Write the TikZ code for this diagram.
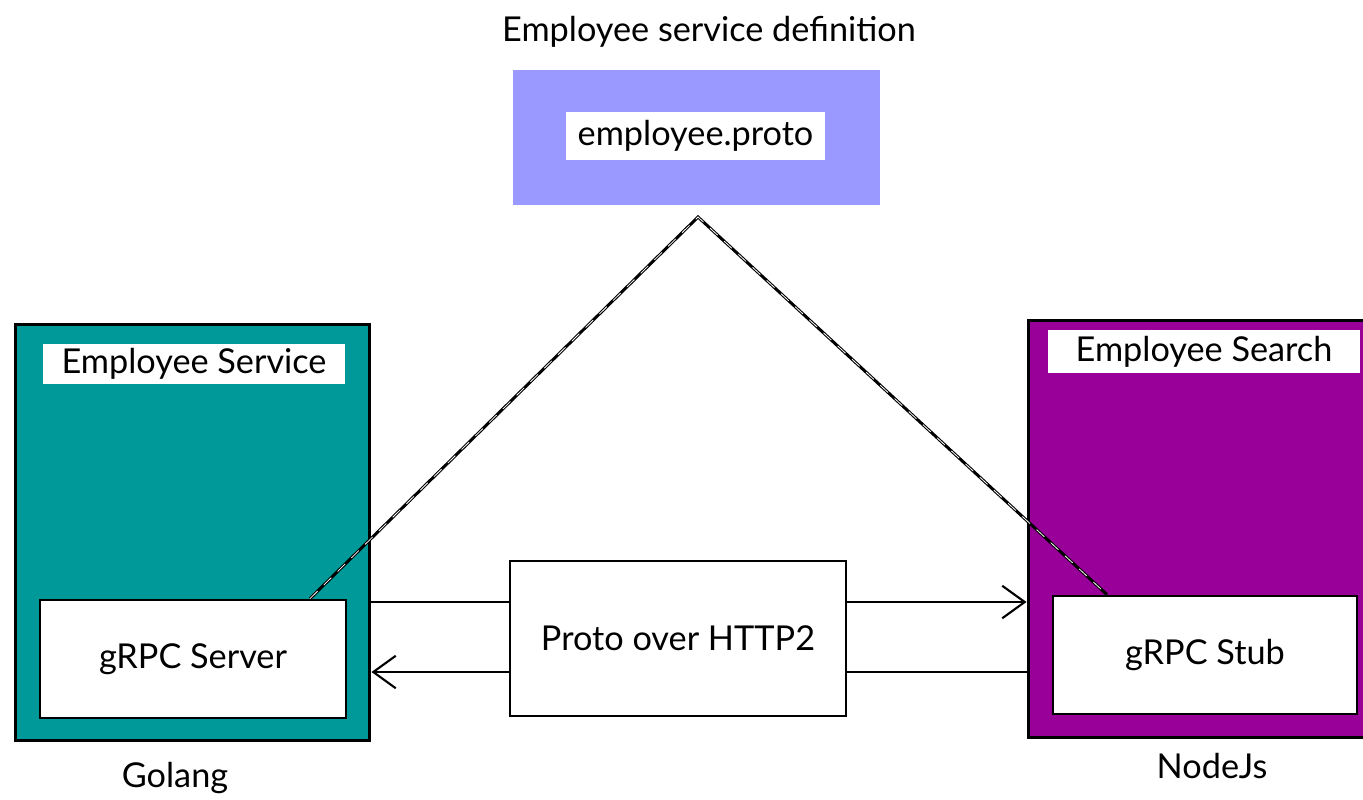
\documentclass[tikz,border=0pt]{standalone}
\usepackage{fontspec}
\setmainfont{Lato}
\usepackage{tikz}
\usetikzlibrary{arrows.meta, positioning}

\definecolor{protoblue}{HTML}{9999FF}
\definecolor{goteal}{HTML}{009999}
\definecolor{nodepurple}{HTML}{990099}

\tikzset{
	outerbox/.style={draw=black, line width=1.7pt, minimum width=#1},
	innerbox/.style={draw=black, fill=white, line width=1.6pt},
	labelbox/.style={fill=white, inner sep=0pt},
	flow/.style={line width=1.2pt, -{Straight Barb[length=0.45cm, width=0.65cm, line width=1.2pt]}},
	plain/.style={line width=1.2pt},
	protolink/.style={draw=black, line width=1.7pt, postaction={draw=white, line width=0.45pt, dash pattern=on 6pt off 5pt}}
}

\begin{document}
\begin{tikzpicture}[x=0.02cm, y=-0.02cm, font=\fontsize{19.5}{23}\selectfont]

	% Frame
	\useasboundingbox (0,0) rectangle (1363,799);

	% Service definition
	\node (title) at (709,32) {Employee service definition};
	\node[fill=protoblue, minimum width=7.34cm, minimum height=2.7cm] (protodef) at (696.5,137.5) {};
	\node[labelbox, minimum width=5.18cm, minimum height=0.96cm] (protofile) at (695.5,136) {employee.proto};
	\coordinate (peak) at (698,217);

	% Employee Service (Golang)
	\node[outerbox=7.1cm, fill=goteal, minimum height=8.34cm] (svc) at (192.5,532.5) {};
	\node[labelbox, minimum width=6.04cm, minimum height=0.8cm] (svclabel) at (194,364) {Employee Service};
	\node[innerbox, minimum width=6.12cm, minimum height=2.36cm] (server) at (193,659) {gRPC Server};
	\node (golang) at (175,778) {Golang};

	% Employee Search (NodeJs)
	\node[outerbox=7.2cm, fill=nodepurple, minimum height=8.36cm] (search) at (1208,529) {};
	\node[labelbox, minimum width=6.24cm, minimum height=0.86cm] (searchlabel) at (1204,351.5) {Employee Search};
	\node[innerbox, minimum width=6.08cm, minimum height=2.36cm] (stub) at (1205,655) {gRPC Stub};
	\node (nodejs) at (1212,766) {NodeJs};

	% Transport
	\node[innerbox, line width=1.3pt, minimum width=6.72cm, minimum height=3.1cm] (http) at (678,638.5) {Proto over HTTP2};
	\coordinate (upper) at (0,602);
	\coordinate (lower) at (0,672);
	\draw[plain] (svc.east |- upper) -- (http.west |- upper);
	\draw[flow] (http.east |- upper) -- (search.west |- upper);
	\draw[plain] (search.west |- lower) -- (http.east |- lower);
	\draw[flow] (http.west |- lower) -- (svc.east |- lower);

	% Generated code links
	\draw[protolink] (server.north -| 310,0) -- (peak) -- (stub.north -| 1107,0);

\end{tikzpicture}
\end{document}
